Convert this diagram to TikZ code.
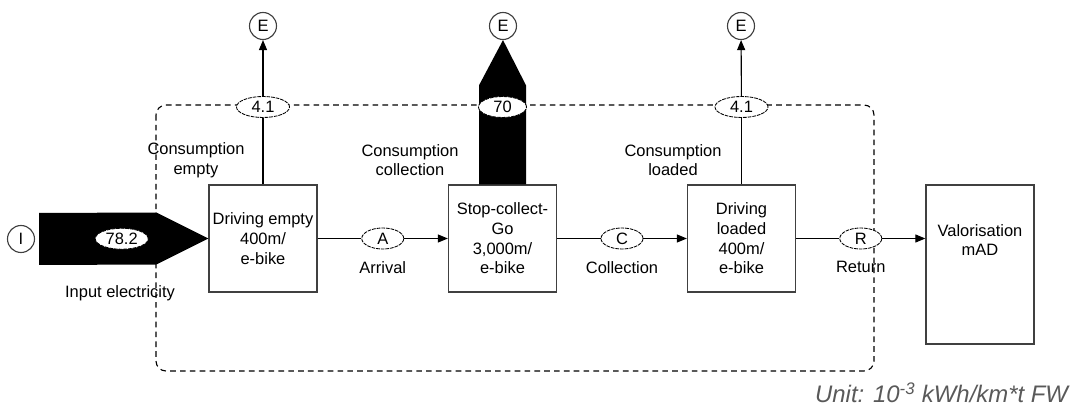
\documentclass[tikz,border=0pt]{standalone}
\usepackage{fontspec}
\setmainfont{Liberation Sans}
\usetikzlibrary{shapes.geometric,arrows.meta,positioning,calc}
\begin{document}
\begin{tikzpicture}[x=0.025cm,y=-0.025cm,
  font=\fontsize{11.7}{14}\selectfont,
  proc/.style={draw=black!75,line width=0.9pt,minimum width=2.7cm,
    minimum height=2.675cm,align=center,inner sep=1pt},
  ecirc/.style={circle,draw=black!75,line width=0.8pt,minimum size=0.675cm,
    inner sep=0pt},
  flowval/.style={ellipse,draw,dash pattern=on 2.6pt off 0.7pt,line width=0.6pt,
    fill=white,minimum width=1.325cm,minimum height=0.525cm,inner sep=0pt},
  flowtag/.style={flowval,minimum width=1.05cm},
  link/.style={line width=0.8pt},
  flow/.style={link,-{Triangle[length=0.25cm,width=0.2cm]}}]
\useasboundingbox (0,0) rectangle (1081,412);
\draw[line width=0.8pt,dash pattern=on 4pt off 3pt,rounded corners=0.25cm]
  (156,105) rectangle (874,371);
\coordinate (bnd) at (0,107);

\node[proc] (de) at (263,238.5) {Driving empty\\400m/\\e-bike};
\node[proc] (sc) at (502.5,238.5) {Stop-collect-\\Go\\3,000m/\\e-bike};
\node[proc] (dl) at (741.5,238.5) {Driving\\loaded\\400m/\\e-bike};
\node[proc,minimum height=3.975cm] (va) at (980,264.5) {};
\node[align=center] (vat) at (980,240) {Valorisation\\mAD};

\node[ecirc] (i) at (21,239) {I};
\node[ecirc] (e1) at (263,26) {E};
\node[ecirc] (e2) at (503,26) {E};
\node[ecirc] (e3) at (741,26) {E};

\fill ($(i.east)+(4,-26)$) -- ($(de.west)+(-52,-26)$) -- (de.west)
  -- ($(de.west)+(-52,26)$) -- ($(i.east)+(4,26)$) -- cycle;
\node[flowval] (v0) at ($(i.east)!0.5!(de.west)$) {78.2};

\fill ($(sc.north)+(-23.5,0)$) -- ($(sc.north)+(-23.5,-99)$) -- (e2.south)
  -- ($(sc.north)+(23.5,-99)$) -- ($(sc.north)+(23.5,0)$) -- cycle;
\node[flowval,minimum width=1.2cm] (v2) at (sc.north |- bnd) {70};

\node[flowval] (v1) at (de.north |- bnd) {4.1};
\draw[link] (de) -- (v1);
\draw[flow] (v1) -- (e1);
\node[flowval] (v3) at (dl.north |- bnd) {4.1};
\draw[link] (dl) -- (v3);
\draw[flow] (v3) -- (e3);

\node[flowtag] (a) at ($(de.east)!0.5!(sc.west)$) {A};
\draw[link] (de) -- (a);
\draw[flow] (a) -- (sc);
\node[flowtag] (c) at ($(sc.east)!0.5!(dl.west)$) {C};
\draw[link] (sc) -- (c);
\draw[flow] (c) -- (dl);
\node[flowtag] (r) at ($(dl.east)!0.5!(dl.east -| va.west)$) {R};
\draw[link] (dl) -- (r);
\draw[flow] (r) -- (r -| va.west);

\node[below=0.18cm of a] (arr) {Arrival};
\node[below=0.18cm of c] (col) {Collection};
\node[below=0.18cm of r] (ret) {Return};

\node[align=center] (ce) at (196,160) {Consumption\\empty};
\node[align=center] (cc) at (410,160) {Consumption\\collection};
\node[align=center] (cl) at (673,160) {Consumption\\loaded};
\node (ie) at (120,293) {Input electricity};
\node[font=\fontsize{17}{20}\selectfont\itshape,text=black!65,anchor=base east]
  (unit) at (1073,403) {Unit: 10\textsuperscript{-3} kWh/km*t FW};
\end{tikzpicture}
\end{document}
